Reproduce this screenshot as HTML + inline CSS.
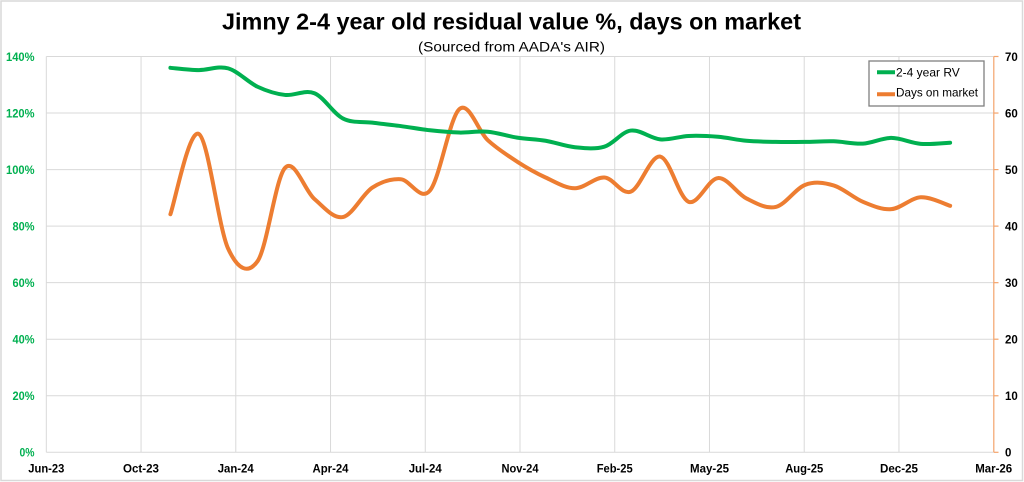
<!DOCTYPE html>
<html>
<head>
<meta charset="utf-8">
<style>
html,body{margin:0;padding:0;background:#fff;}
svg{display:block;}
text{font-family:"Liberation Sans",Arial,sans-serif;}
</style>
</head>
<body>
<svg id="c" width="1024" height="482" viewBox="0 0 1024 482" xmlns="http://www.w3.org/2000/svg">
<rect x="0" y="0" width="1024" height="482" fill="#fff"/>
<rect x="1" y="1" width="1021.5" height="479.5" fill="none" stroke="#d9d9d9" stroke-width="1.5"/>
<g id="grid" stroke="#d9d9d9" stroke-width="1"></g>
<line x1="993.8" y1="56.5" x2="993.8" y2="452.3" stroke="#f4a46c" stroke-width="1.2"/>
<g id="rticks" stroke="#f4a46c" stroke-width="1.2"></g>

<text x="511.5" y="29.5" font-size="23" font-weight="bold" text-anchor="middle" textLength="579" lengthAdjust="spacingAndGlyphs" fill="#000">Jimny 2-4 year old residual value %, days on market</text>
<text x="511.5" y="51.5" font-size="14" text-anchor="middle" textLength="187" lengthAdjust="spacingAndGlyphs" fill="#000">(Sourced from AADA's AIR)</text>

<g font-size="11.5" font-weight="bold" fill="#00b050" text-anchor="end">
<text x="34.5" y="60.8" textLength="28.5" lengthAdjust="spacingAndGlyphs">140%</text>
<text x="34.5" y="117.3" textLength="28.5" lengthAdjust="spacingAndGlyphs">120%</text>
<text x="34.5" y="173.9" textLength="28.5" lengthAdjust="spacingAndGlyphs">100%</text>
<text x="34.5" y="230.4" textLength="22" lengthAdjust="spacingAndGlyphs">80%</text>
<text x="34.5" y="287.0" textLength="22" lengthAdjust="spacingAndGlyphs">60%</text>
<text x="34.5" y="343.5" textLength="22" lengthAdjust="spacingAndGlyphs">40%</text>
<text x="34.5" y="400.1" textLength="22" lengthAdjust="spacingAndGlyphs">20%</text>
<text x="34.5" y="456.6" textLength="15" lengthAdjust="spacingAndGlyphs">0%</text>
</g>
<g font-size="11.5" font-weight="bold" fill="#000" text-anchor="start">
<text x="1005" y="60.8">70</text>
<text x="1005" y="117.3">60</text>
<text x="1005" y="173.9">50</text>
<text x="1005" y="230.4">40</text>
<text x="1005" y="287.0">30</text>
<text x="1005" y="343.5">20</text>
<text x="1005" y="400.1">10</text>
<text x="1005" y="456.6">0</text>
</g>
<g font-size="12" font-weight="bold" fill="#000" text-anchor="middle">
<text x="46.3" y="472.5" textLength="36" lengthAdjust="spacingAndGlyphs">Jun-23</text>
<text x="141" y="472.5" textLength="36" lengthAdjust="spacingAndGlyphs">Oct-23</text>
<text x="235.7" y="472.5" textLength="36" lengthAdjust="spacingAndGlyphs">Jan-24</text>
<text x="330.5" y="472.5" textLength="36" lengthAdjust="spacingAndGlyphs">Apr-24</text>
<text x="425.2" y="472.5" textLength="33" lengthAdjust="spacingAndGlyphs">Jul-24</text>
<text x="520" y="472.5" textLength="37" lengthAdjust="spacingAndGlyphs">Nov-24</text>
<text x="614.7" y="472.5" textLength="36" lengthAdjust="spacingAndGlyphs">Feb-25</text>
<text x="709.5" y="472.5" textLength="39" lengthAdjust="spacingAndGlyphs">May-25</text>
<text x="804.2" y="472.5" textLength="38" lengthAdjust="spacingAndGlyphs">Aug-25</text>
<text x="899" y="472.5" textLength="38" lengthAdjust="spacingAndGlyphs">Dec-25</text>
<text x="993.7" y="472.5" textLength="37" lengthAdjust="spacingAndGlyphs">Mar-26</text>
</g>

<path id="orange" fill="none" stroke="#ed7d31" stroke-width="4" stroke-linecap="round" stroke-linejoin="round"/>
<path id="green" fill="none" stroke="#00b050" stroke-width="4" stroke-linecap="round" stroke-linejoin="round"/>

<rect x="869" y="61" width="115" height="45" fill="#fff" stroke="#7f7f7f" stroke-width="1.3"/>
<line x1="877" y1="72.3" x2="895" y2="72.3" stroke="#00b050" stroke-width="4"/>
<line x1="877" y1="94.3" x2="895" y2="94.3" stroke="#ed7d31" stroke-width="4"/>
<text x="896" y="76.5" font-size="12" fill="#000">2-4 year RV</text>
<text x="896" y="96.5" font-size="12" fill="#000" textLength="82" lengthAdjust="spacingAndGlyphs">Days on market</text>
</svg>
<script>
(function(){
  var NS="http://www.w3.org/2000/svg";
  var grid=document.getElementById("grid");
  var top=56.5, bot=452.3, left=46.3, right=993.7;
  var step=(bot-top)/7;
  for(var i=0;i<8;i++){
    var y=top+i*step;
    var l=document.createElementNS(NS,"line");
    l.setAttribute("x1",left);l.setAttribute("x2",right);
    l.setAttribute("y1",y);l.setAttribute("y2",y);
    grid.appendChild(l);
    var t=document.createElementNS(NS,"line");
    t.setAttribute("x1",993.8);t.setAttribute("x2",998.5);
    t.setAttribute("y1",y);t.setAttribute("y2",y);
    document.getElementById("rticks").appendChild(t);
  }
  var xs=(right-left)/10;
  for(var j=0;j<10;j++){
    var x=left+j*xs;
    var v=document.createElementNS(NS,"line");
    v.setAttribute("x1",x);v.setAttribute("x2",x);
    v.setAttribute("y1",top);v.setAttribute("y2",bot);
    grid.appendChild(v);
  }
  var days=[0,30,61,92,121,152,182,213,243,274,305,335,366,396,427,458,486,517,547,578,608,639,670,700,731,761,792,823];
  var pxd=(right-left)/1000;
  var x0=left+131*pxd;
  var X=days.map(function(d){return x0+d*pxd;});
  var green=[136.0,135.2,135.8,129.3,126.4,127.0,118.1,116.6,115.4,113.9,113.1,113.4,111.3,110.2,107.9,108.1,113.8,110.7,111.9,111.6,110.2,109.8,109.8,110.0,109.2,111.2,109.1,109.5];
  var orange=[42.1,56.3,36.0,33.8,50.3,44.8,41.6,46.8,48.3,46.3,60.7,55.2,51.4,48.6,46.7,48.6,46.1,52.3,44.3,48.5,44.9,43.4,47.3,47.2,44.3,43.0,45.1,43.6];
  function path(vals,fy){
    var P=vals.map(function(v,i){return [X[i],fy(v)];});
    var d="M"+P[0][0].toFixed(2)+","+P[0][1].toFixed(2);
    for(var i=0;i<P.length-1;i++){
      var p0=P[i>0?i-1:i],p1=P[i],p2=P[i+1],p3=P[i+2<P.length?i+2:i+1];
      var c1x=p1[0]+(p2[0]-p0[0])/6,c1y=p1[1]+(p2[1]-p0[1])/6;
      var c2x=p2[0]-(p3[0]-p1[0])/6,c2y=p2[1]-(p3[1]-p1[1])/6;
      d+=" C"+c1x.toFixed(2)+","+c1y.toFixed(2)+" "+c2x.toFixed(2)+","+c2y.toFixed(2)+" "+p2[0].toFixed(2)+","+p2[1].toFixed(2);
    }
    return d;
  }
  document.getElementById("green").setAttribute("d",path(green,function(p){return bot-p*(bot-top)/140;}));
  document.getElementById("orange").setAttribute("d",path(orange,function(v){return bot-v*(bot-top)/70;}));
})();
</script>
</body>
</html>
